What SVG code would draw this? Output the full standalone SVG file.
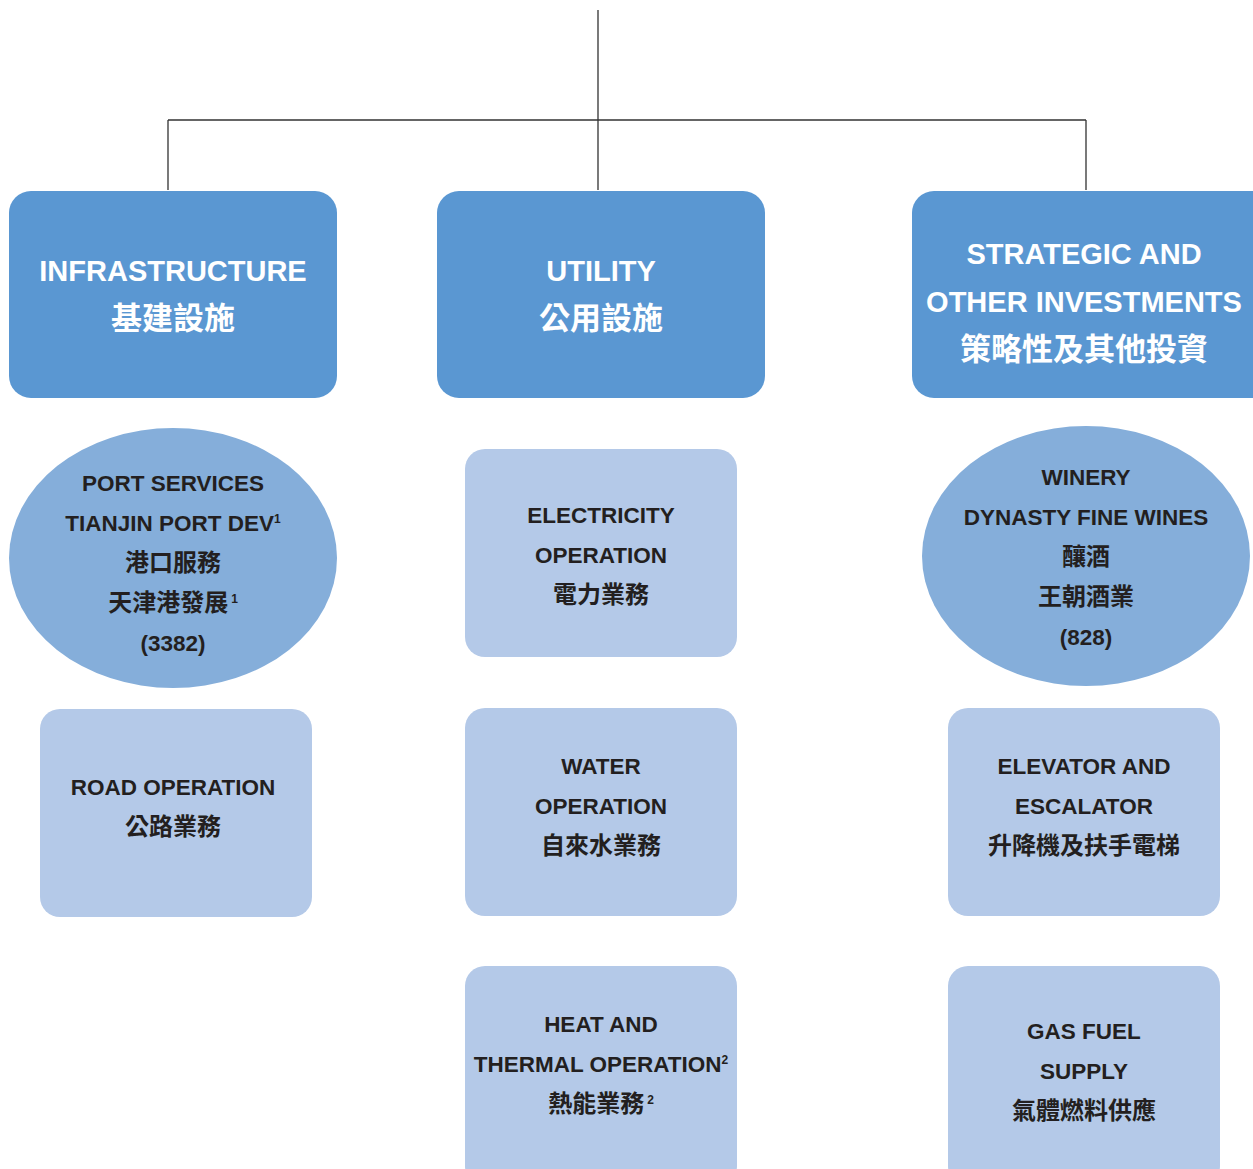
<svg xmlns="http://www.w3.org/2000/svg" width="1253" height="1169" viewBox="0 0 1253 1169">
<style>
.top{fill:#5A97D2}
.lite{fill:#B4C9E8}
.ell{fill:#85AEDA}
.tt{font-family:"Liberation Sans","Noto Sans CJK TC",sans-serif;font-weight:bold;font-size:29px;fill:#fff;text-anchor:middle}
.bt{font-family:"Liberation Sans","Noto Sans CJK TC",sans-serif;font-weight:bold;font-size:22.5px;fill:#231F20;text-anchor:middle}
.tc{font-size:31px}
.bc{font-size:24px}
.sup{font-size:12px}
.ln{stroke:#333;stroke-width:1.3;fill:none}
</style>
<rect width="1253" height="1169" fill="#fff"/>
<g id="connectors">
<path class="ln" d="M598 10V190M168 120H1086M168 120V190M1086 120V190"/>
</g>
<g id="infrastructure">
<rect class="top" x="9" y="191" width="328" height="207" rx="22"/>
<text class="tt" x="173" y="281">INFRASTRUCTURE</text>
<text class="tt tc" x="173" y="329">基建設施</text>
</g>
<g id="utility">
<rect class="top" x="437" y="191" width="328" height="207" rx="22"/>
<text class="tt" x="601" y="281">UTILITY</text>
<text class="tt tc" x="601" y="329">公用設施</text>
</g>
<g id="strategic">
<rect class="top" x="912" y="191" width="370" height="207" rx="22"/>
<text class="tt" x="1084" y="264">STRATEGIC AND</text>
<text class="tt" x="1084" y="312">OTHER INVESTMENTS</text>
<text class="tt tc" x="1084" y="360">策略性及其他投資</text>
</g>
<g id="port">
<ellipse class="ell" cx="173" cy="558" rx="164" ry="130"/>
<text class="bt" x="173" y="491">PORT SERVICES</text>
<text class="bt" x="173" y="531">TIANJIN PORT DEV<tspan class="sup" dy="-8">1</tspan></text>
<text class="bt bc" x="173" y="571">港口服務</text>
<text class="bt bc" x="173" y="611">天津港發展<tspan class="sup" dx="3" dy="-8">1</tspan></text>
<text class="bt" x="173" y="651">(3382)</text>
</g>
<g id="road">
<rect class="lite" x="40" y="709" width="272" height="208" rx="20"/>
<text class="bt" x="173" y="795">ROAD OPERATION</text>
<text class="bt bc" x="173" y="835">公路業務</text>
</g>
<g id="electricity">
<rect class="lite" x="465" y="449" width="272" height="208" rx="20"/>
<text class="bt" x="601" y="523">ELECTRICITY</text>
<text class="bt" x="601" y="563">OPERATION</text>
<text class="bt bc" x="601" y="603">電力業務</text>
</g>
<g id="water">
<rect class="lite" x="465" y="708" width="272" height="208" rx="20"/>
<text class="bt" x="601" y="774">WATER</text>
<text class="bt" x="601" y="814">OPERATION</text>
<text class="bt bc" x="601" y="854">自來水業務</text>
</g>
<g id="heat">
<rect class="lite" x="465" y="966" width="272" height="220" rx="20"/>
<text class="bt" x="601" y="1032">HEAT AND</text>
<text class="bt" x="601" y="1072">THERMAL OPERATION<tspan class="sup" dy="-8">2</tspan></text>
<text class="bt bc" x="601" y="1112">熱能業務<tspan class="sup" dx="3" dy="-8">2</tspan></text>
</g>
<g id="winery">
<ellipse class="ell" cx="1086" cy="556" rx="164" ry="130"/>
<text class="bt" x="1086" y="485">WINERY</text>
<text class="bt" x="1086" y="525">DYNASTY FINE WINES</text>
<text class="bt bc" x="1086" y="565">釀酒</text>
<text class="bt bc" x="1086" y="605">王朝酒業</text>
<text class="bt" x="1086" y="645">(828)</text>
</g>
<g id="elevator">
<rect class="lite" x="948" y="708" width="272" height="208" rx="20"/>
<text class="bt" x="1084" y="774">ELEVATOR AND</text>
<text class="bt" x="1084" y="814">ESCALATOR</text>
<text class="bt bc" x="1084" y="854">升降機及扶手電梯</text>
</g>
<g id="gas">
<rect class="lite" x="948" y="966" width="272" height="220" rx="20"/>
<text class="bt" x="1084" y="1039">GAS FUEL</text>
<text class="bt" x="1084" y="1079">SUPPLY</text>
<text class="bt bc" x="1084" y="1119">氣體燃料供應</text>
</g>
</svg>
